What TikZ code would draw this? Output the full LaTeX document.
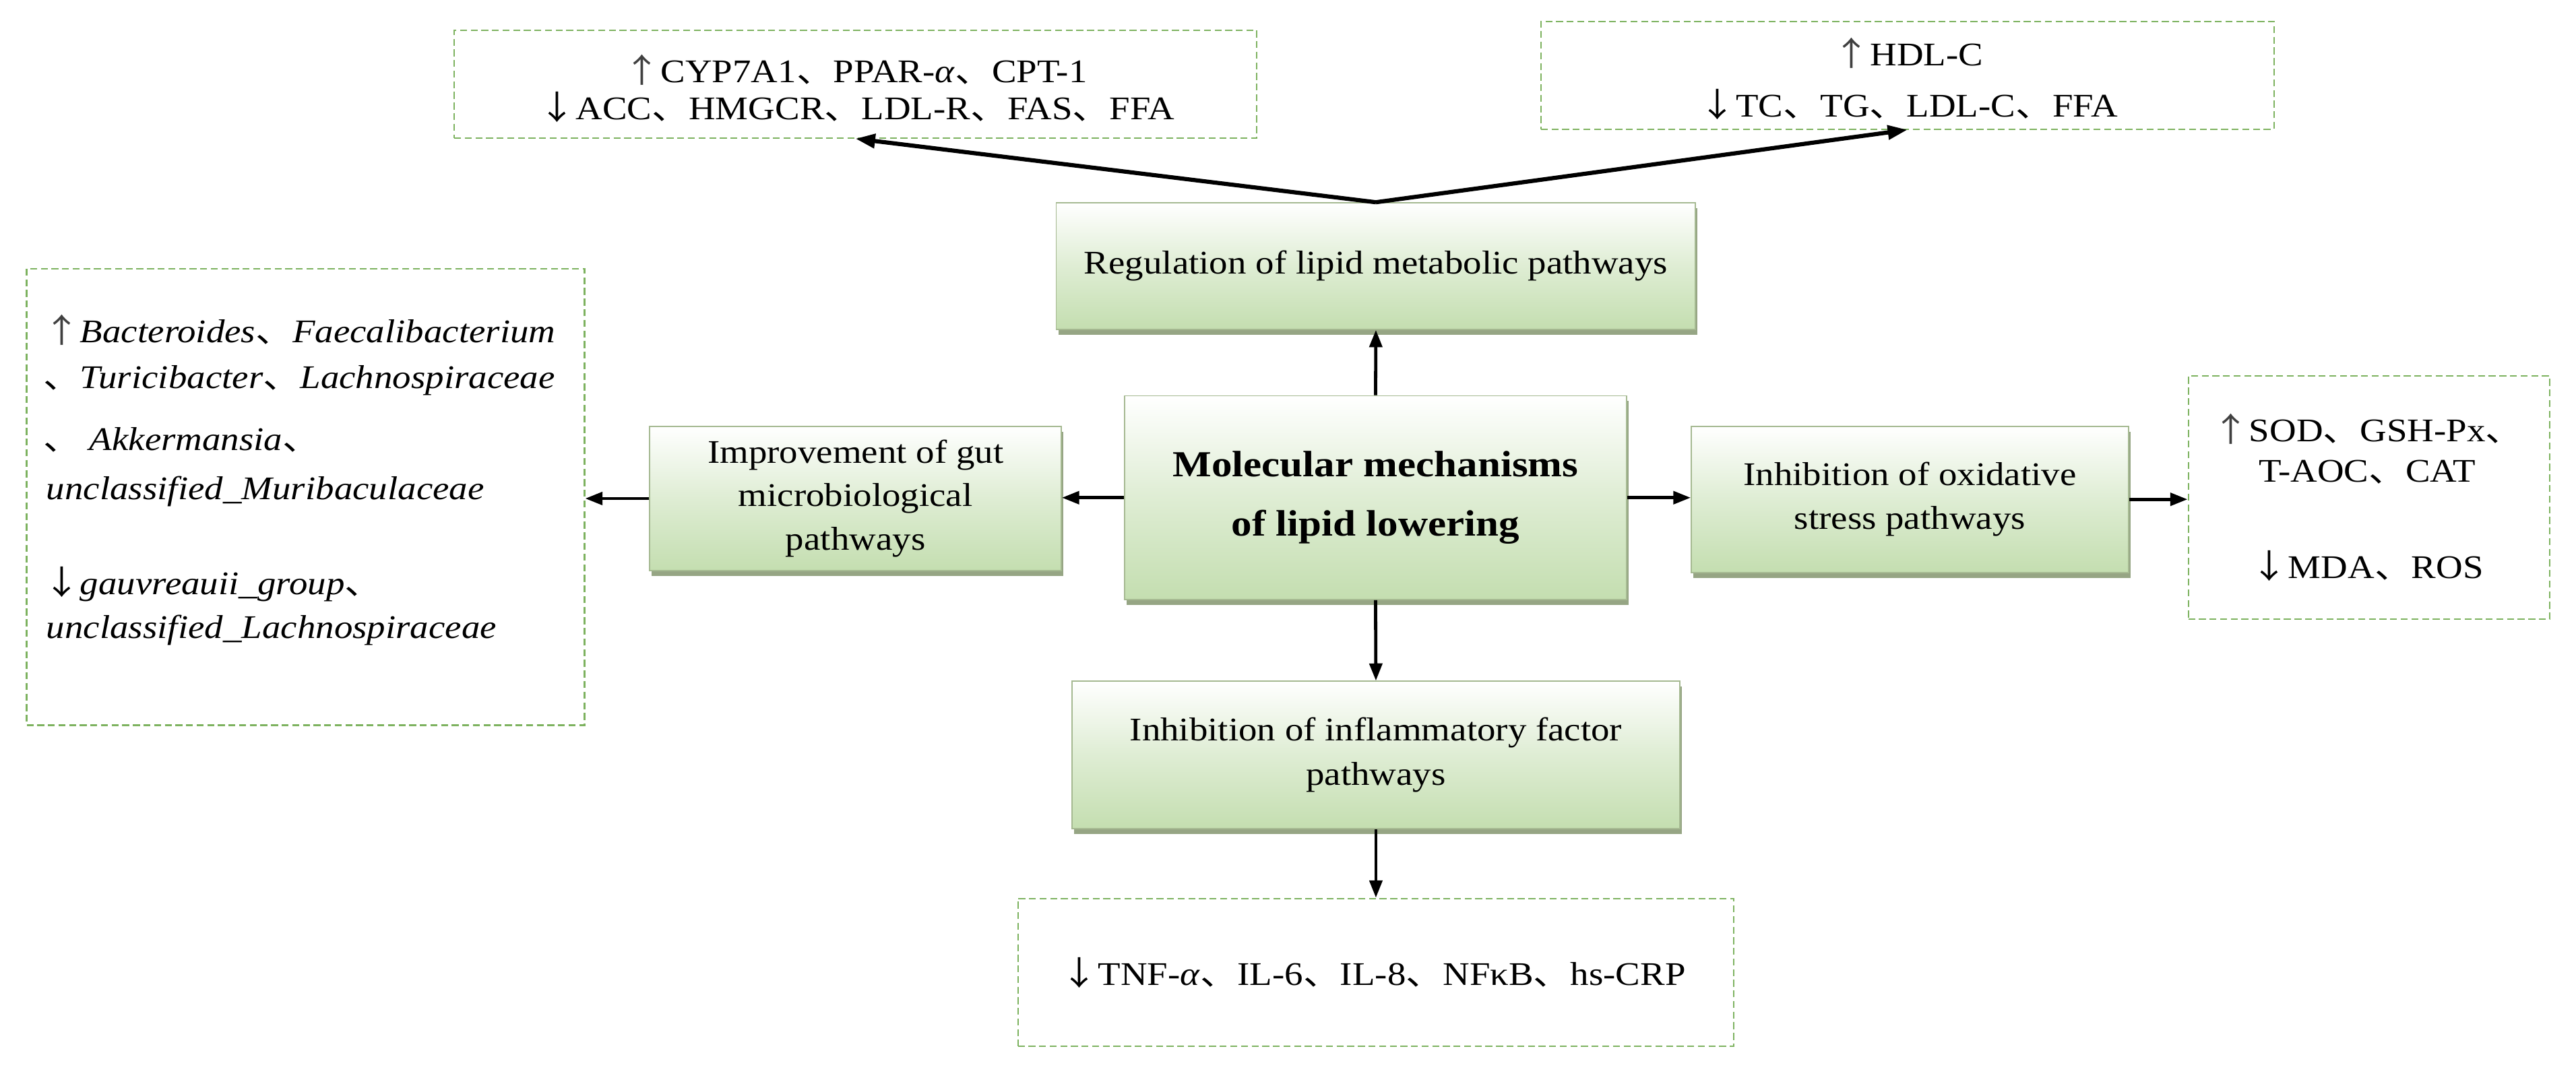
\documentclass[tikz,border=0pt]{standalone}
\usepackage{fontspec}
\setmainfont{Liberation Serif}[FakeStretch=1.12]
\newfontfamily\cjkf{Noto Sans CJK SC}[FakeStretch=1.12]
\usetikzlibrary{arrows.meta,shadows,calc}
\definecolor{dashgreen}{RGB}{125,178,95}
\definecolor{boxgreen}{RGB}{196,222,176}
\definecolor{boxedge}{RGB}{165,185,145}
\definecolor{shadowgreen}{RGB}{150,165,132}
\newcommand{\dun}{{\cjkf 、}}
\newcommand{\upa}{{\cjkf\color{black!75}↑}}
\newcommand{\dna}{{\cjkf ↓}}
\begin{document}
\begin{tikzpicture}[x=0.025cm,y=-0.025cm,
  txt/.style={font=\fontsize{14.3}{16}\selectfont, inner sep=0pt},
  greenbox/.style={draw=boxedge, line width=0.5pt, top color=white, bottom color=boxgreen,
     middle color=boxgreen!55!white, inner sep=0pt, align=center,
     drop shadow={shadow xshift=0.9pt, shadow yshift=-2.3pt, fill=shadowgreen, opacity=1}},
  dashbox/.style={draw=dashgreen, line width=0.6pt, dash pattern=on 3pt off 1.6pt, fill=white, inner sep=0pt},
  conn/.style={-{Triangle[length=7.5pt,width=5.5pt]}, line width=1.4pt, black},
  topconn/.style={-{Triangle[length=8.5pt,width=6pt]}, line width=1.8pt, black}
]
\useasboundingbox[fill=white] (0,0) rectangle (1568,662);

% dashed result boxes
\node[dashbox, minimum width=12.2125cm, minimum height=1.6375cm] (tl) at (520.75,51.25) {};
\node[dashbox, minimum width=11.15cm, minimum height=1.64cm] (tr) at (1161,45.8) {};
\node[dashbox, minimum width=8.4875cm, minimum height=6.95cm] (lb) at (186,302.5) {};
\node[dashbox, minimum width=5.5cm, minimum height=3.7cm] (rb) at (1442,303) {};
\node[dashbox, minimum width=10.895cm, minimum height=2.25cm] (bb) at (837.5,592) {};

% green pathway boxes
\node[greenbox, minimum width=9.725cm, minimum height=1.925cm, font=\fontsize{14.3}{16}\selectfont] (reg) at (837.5,162)
  {Regulation of lipid metabolic pathways};
\node[greenbox, minimum width=7.635cm, minimum height=3.1cm, font=\fontsize{15.9}{25.6}\selectfont\bfseries] (cent) at (837.3,303)
  {Molecular mechanisms\\of lipid lowering};
\node[greenbox, minimum width=6.2625cm, minimum height=2.2cm, font=\fontsize{14.3}{18.85}\selectfont] (gut) at (520.75,303.5)
  {Improvement of gut\\microbiological\\pathways};
\node[greenbox, minimum width=6.65cm, minimum height=2.225cm, font=\fontsize{14.3}{19}\selectfont] (oxid) at (1162.5,304)
  {Inhibition of oxidative\\stress pathways};
\node[greenbox, minimum width=9.2425cm, minimum height=2.245cm, font=\fontsize{14.3}{19.3}\selectfont] (infl) at (837.5,459.7)
  {Inhibition of inflammatory factor\\pathways};

% texts of the result boxes
\node[txt, anchor=base] (tl1) at (520.75,50.2) {\upa CYP7A1\dun PPAR-\textit{α}\dun CPT-1};
\node[txt, anchor=base] (tl2) at (521.5,73) {\dna ACC\dun HMGCR\dun LDL-R\dun FAS\dun FFA};
\node[txt, anchor=base] (tr1) at (1161.5,39.9) {\upa HDL-C};
\node[txt, anchor=base] (tr2) at (1161.6,71.2) {\dna TC\dun TG\dun LDL-C\dun FFA};

\node[txt, anchor=base west] (l1) at (26,208.4) {\upa\textit{Bacteroides}\dun\textit{Faecalibacterium}};
\node[txt, anchor=base west] (l2) at (26,236.4) {\dun\textit{Turicibacter}\dun\textit{Lachnospiraceae}};
\node[txt, anchor=base west] (l3) at (26,274) {\dun\ \textit{Akkermansia}\dun};
\node[txt, anchor=base west] (l4) at (28,304.2) {\textit{unclassified\_Muribaculaceae}};
\node[txt, anchor=base west] (l5) at (26,361.8) {\dna\textit{gauvreauii\_group}\dun};
\node[txt, anchor=base west] (l6) at (28,388.7) {\textit{unclassified\_Lachnospiraceae}};

\node[txt, anchor=base] (r1) at (1441,269) {\upa SOD\dun GSH-Px\dun};
\node[txt, anchor=base] (r2) at (1441,293.4) {T-AOC\dun CAT};
\node[txt, anchor=base] (r3) at (1441,352) {\dna MDA\dun ROS};

\node[txt, anchor=base] (b1) at (836,599.7) {\dna TNF-\textit{α}\dun IL-6\dun IL-8\dun NFκB\dun hs-CRP};

% connectors
\draw[topconn] (reg.north) -- (tl.south);
\draw[topconn] (reg.north) -- (tr.south);
\draw[conn] (cent.north) -- (reg.south);
\draw[conn] (cent.west) -- (cent.west -| gut.east);
\draw[conn] (gut.west) -- (gut.west -| lb.east);
\draw[conn] (cent.east) -- (cent.east -| oxid.west);
\draw[conn] (oxid.east) -- (oxid.east -| rb.west);
\draw[conn] (cent.south) -- (infl.north);
\draw[conn] (infl.south) -- (bb.north);
\end{tikzpicture}
\end{document}
